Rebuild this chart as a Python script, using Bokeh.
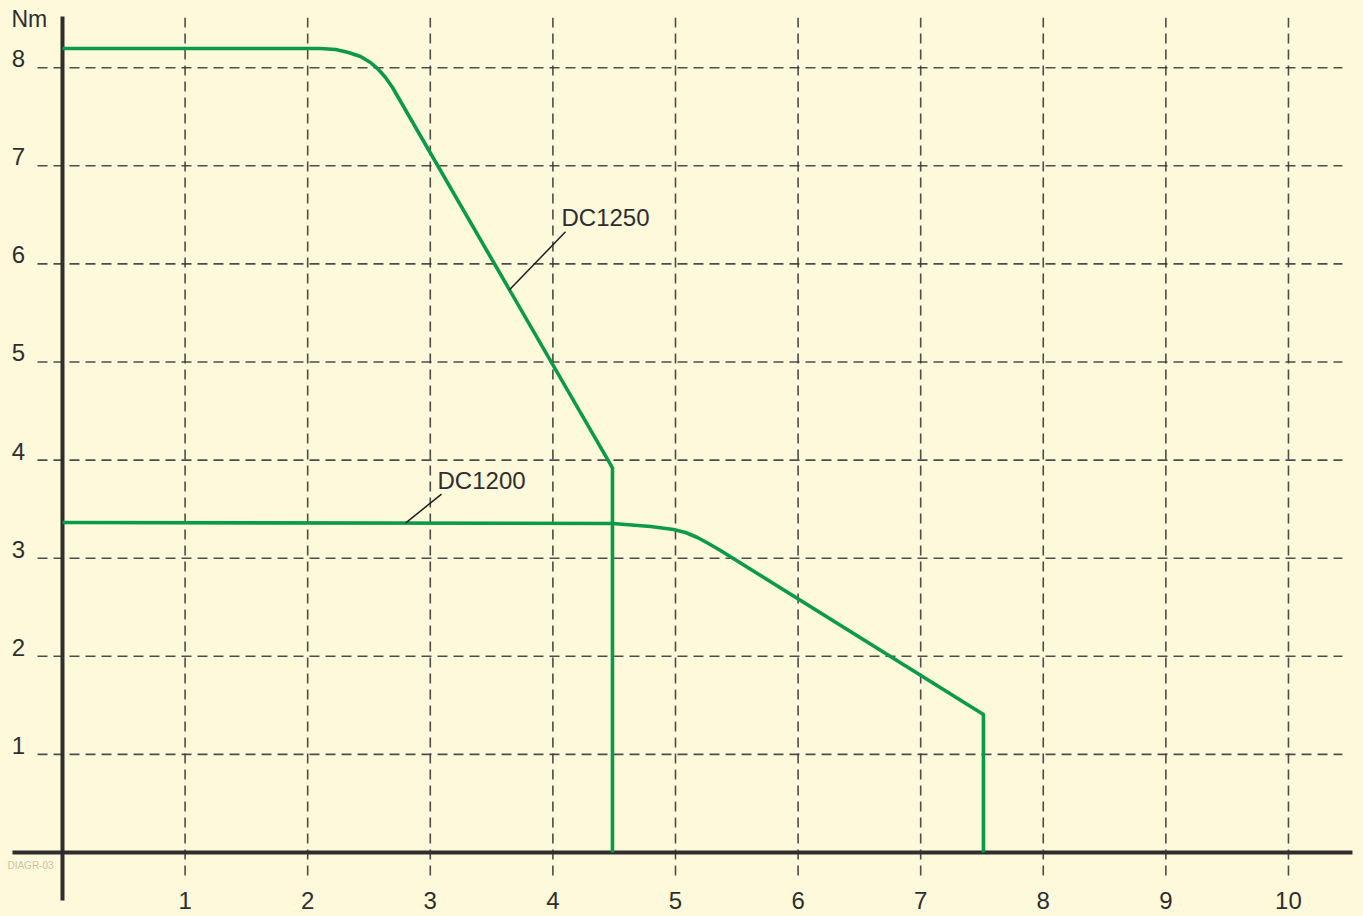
import numpy as np
from bokeh.plotting import figure
from bokeh.models import Range1d
from bokeh.core.properties import value
from bokeh.core.templates import get_env
from bokeh.embed import file_html
from bokeh.resources import INLINE

# ---------------- data ----------------
x_ticks = [1, 2, 3, 4, 5, 6, 7, 8, 9, 10]
x_tick_labels = ["1", "2", "3", "4", "5", "6", "7", "8", "9", "10"]
y_ticks = [1, 2, 3, 4, 5, 6, 7, 8]
y_tick_labels = ["1", "2", "3", "4", "5", "6", "7", "8"]
y_unit = "Nm"

dc1250_x = [0.0, 2.104, 2.227, 2.333, 2.431, 2.512, 2.577, 2.635, 2.692, 4.486, 4.486]
dc1250_y = [8.196, 8.196, 8.186, 8.155, 8.114, 8.053, 7.982, 7.900, 7.798, 3.92, 0.0]

dc1200_x = [0.0, 4.49, 4.796, 4.984, 5.082, 5.179, 5.269, 5.367, 7.512, 7.512]
dc1200_y = [3.364, 3.354, 3.323, 3.293, 3.262, 3.211, 3.150, 3.078, 1.407, 0.0]

series_names = ["DC1250", "DC1200"]
note_text = "DIAGR-03"

# ---------------- style ----------------
BG = "#FFF9DC"
INK = "#2E2E2E"
GRID = "#3A3A3A"
GREEN = "#0B9A4A"
FONT = value("Liberation Sans")

X_UNIT = 122.6   # px per x unit
Y_UNIT = 98.1    # px per y unit


def lift(font_px):
    # correction for the renderer placing alphabetic baselines slightly low
    return 0.42 * font_px / Y_UNIT


p = figure(width=1363, height=916,
           x_range=Range1d(-0.5057, 10.612), y_range=Range1d(-0.6524, 8.685),
           x_axis_type=None, y_axis_type=None,
           output_backend="svg", toolbar_location=None,
           min_border=0, min_border_left=0, min_border_right=0,
           min_border_top=0, min_border_bottom=0,
           background_fill_color=BG, border_fill_color=BG,
           outline_line_color=None)

# dashed grid
nx, ny = len(x_ticks), len(y_ticks)
p.segment(x0=x_ticks, y0=[-0.234] * nx, x1=x_ticks, y1=[8.51] * nx,
          line_color=GRID, line_width=1.6, line_dash="10 6", line_alpha=0.9)
p.segment(x0=[-0.204] * ny, y0=y_ticks, x1=[10.44] * ny, y1=y_ticks,
          line_color=GRID, line_width=1.6, line_dash="10 6", line_alpha=0.9)

# axis lines
p.segment(x0=[-0.408], y0=[0], x1=[10.522], y1=[0], line_color=INK, line_width=4)
p.segment(x0=[0], y0=[-0.489], x1=[0], y1=[8.522], line_color=INK, line_width=4)

# tick labels
p.text(x=x_ticks, y=[-0.59 + lift(24)] * nx, text=x_tick_labels, text_align="center",
       text_baseline="alphabetic", text_font=FONT, text_font_size="24px", text_color=INK)
p.text(x=[-0.359] * ny, y=[t - 0.01 + lift(24) for t in y_ticks], text=y_tick_labels,
       text_align="center", text_baseline="alphabetic", text_font=FONT,
       text_font_size="24px", text_color=INK)
p.text(x=[-0.416], y=[8.40 + lift(23)], text=[y_unit], text_align="left",
       text_baseline="alphabetic", text_font=FONT, text_font_size="23px", text_color=INK)

# curves
p.line(dc1250_x, dc1250_y, line_color=GREEN, line_width=3.6, line_join="round")
p.line(dc1200_x, dc1200_y, line_color=GREEN, line_width=3.6, line_join="round")

# leader annotations
anchor_x = [3.646, 2.798]
curves = [(dc1250_x, dc1250_y), (dc1200_x, dc1200_y)]
leader_dx = [56 / X_UNIT, 36 / X_UNIT]
leader_dy = [58 / Y_UNIT, 29 / Y_UNIT]
lx0, ly0, lx1, ly1, tx, ty = [], [], [], [], [], []
for ax, (cx, cy), dx, dy in zip(anchor_x, curves, leader_dx, leader_dy):
    ay = float(np.interp(ax, cx, cy))
    lx0.append(ax); ly0.append(ay)
    lx1.append(ax + dx); ly1.append(ay + dy)
    tx.append(ax + dx - 4 / X_UNIT); ty.append(ay + dy + 4 / Y_UNIT + lift(24))
p.segment(x0=lx0, y0=ly0, x1=lx1, y1=ly1, line_color="#1E1E1E", line_width=1.5)
p.text(x=tx, y=ty, text=series_names, text_align="left", text_baseline="alphabetic",
       text_font=FONT, text_font_size="24px", text_color=INK)

# drawing number
p.text(x=[-0.449], y=[-0.173 + lift(10)], text=[note_text], text_align="left",
       text_baseline="alphabetic", text_font=FONT, text_font_size="10px", text_color="#C9C2A4")

PAGE = get_env().from_string(
    '{% extends "file.html" %}{% block postamble %}'
    '<style>html,body{background:#FFF9DC;}</style>{% endblock %}'
)

open("out.html", "w").write(file_html(p, INLINE, template=PAGE))
